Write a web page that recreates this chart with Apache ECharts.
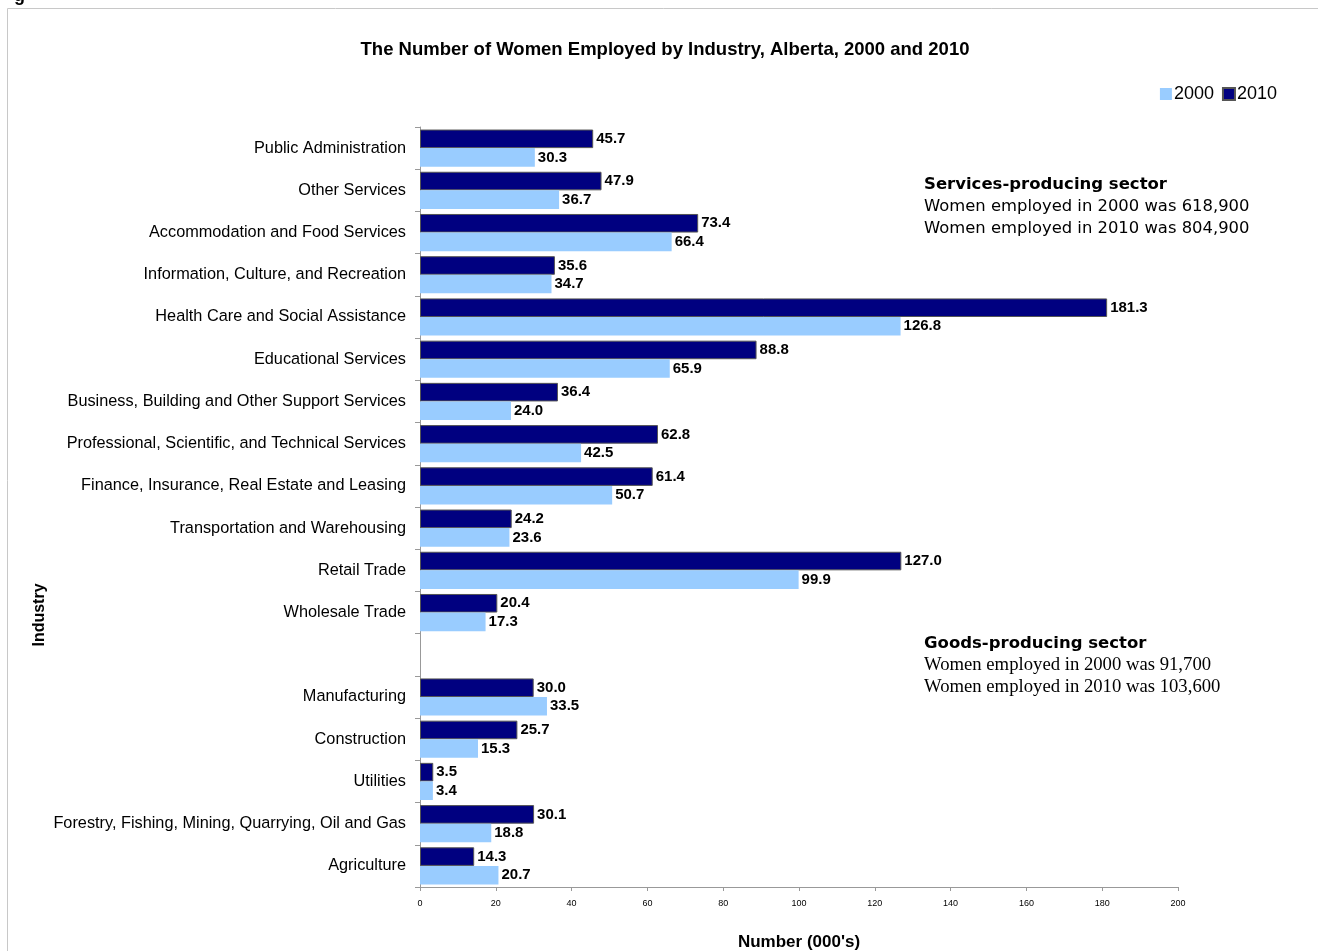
<!DOCTYPE html>
<html><head><meta charset="utf-8">
<script src="https://cdn.jsdelivr.net/npm/echarts@6/dist/echarts.min.js"></script>
<style>html,body{margin:0;padding:0;background:#fff}#c{width:1318px;height:951px}</style>
</head><body><div id="c"></div>
<script>
const categories = ["Public Administration","Other Services","Accommodation and Food Services","Information, Culture, and Recreation","Health Care and Social Assistance","Educational Services","Business, Building and Other Support Services","Professional, Scientific, and Technical Services","Finance, Insurance, Real Estate and Leasing","Transportation and Warehousing","Retail Trade","Wholesale Trade","","Manufacturing","Construction","Utilities","Forestry, Fishing, Mining, Quarrying, Oil and Gas","Agriculture"];
const values2010 = [45.7,47.9,73.4,35.6,181.3,88.8,36.4,62.8,61.4,24.2,127.0,20.4,null,30.0,25.7,3.5,30.1,14.3];
const values2000 = [30.3,36.7,66.4,34.7,126.8,65.9,24.0,42.5,50.7,23.6,99.9,17.3,null,33.5,15.3,3.4,18.8,20.7];
const seriesNames = ["2000","2010"];
const titleText = "The Number of Women Employed by Industry, Alberta, 2000 and 2010";
const xAxisTitle = "Number (000's)";
const yAxisTitle = "Industry";
const servicesNote = ["Services-producing sector","Women employed in 2000 was 618,900","Women employed in 2010 was 804,900"];
const goodsNote = ["Goods-producing sector","Women employed in 2000 was 91,700","Women employed in 2010 was 103,600"];

const chart = echarts.init(document.getElementById('c'));
const SANS = 'Liberation Sans, Arial, sans-serif';
const lbl = {show:true, position:'right', distance:3, color:'#000', fontWeight:'bold', fontSize:15, fontFamily:SANS, formatter:p=>p.value==null?'':p.value.toFixed(1)};
chart.setOption({
  animation:false,
  title:{text:titleText,left:660,textAlign:'center',top:35,textStyle:{fontSize:18.5,fontWeight:'bold',color:'#000',fontFamily:SANS}},
  legend:{data:seriesNames,right:36,top:80,icon:'rect',itemWidth:12,itemHeight:12,itemGap:8,textStyle:{fontSize:18,color:'#000',fontFamily:SANS,padding:[0,0,0,-3]}},
  grid:{left:420,right:140,top:127,bottom:64,outerBoundsMode:'none',containLabel:false},
  xAxis:{type:'value',min:0,max:200,interval:20,splitLine:{show:false},
    axisLine:{show:true,lineStyle:{color:'#999'}},axisTick:{show:true,length:4,lineStyle:{color:'#999'}},
    axisLabel:{color:'#000',fontSize:9,margin:12,fontFamily:SANS},
    name:xAxisTitle,nameLocation:'middle',nameGap:47,nameTextStyle:{fontSize:17,fontWeight:'bold',color:'#000',fontFamily:SANS}},
  yAxis:{type:'category',data:categories,inverse:true,
    axisLine:{show:true,lineStyle:{color:'#999'}},axisTick:{show:true,length:5,lineStyle:{color:'#999'}},
    axisLabel:{color:'#000',fontSize:16.3,margin:14,fontFamily:SANS,padding:[3,0,0,0]}},
  series:[
    {name:'2010',type:'bar',data:values2010,barGap:'0%',barCategoryGap:'12%',itemStyle:{color:'#000080',borderColor:'#555',borderWidth:1},label:lbl},
    {name:'2000',type:'bar',data:values2000,barGap:'0%',barCategoryGap:'12%',itemStyle:{color:'#99CCFF'},label:lbl}
  ],
  graphic:[
    {type:'rect',shape:{x:7.5,y:8.5,width:1320,height:960},style:{fill:'none',stroke:'#c8c8c8',lineWidth:1},z:-1},
    {type:'text',left:14,top:-13,style:{text:'g',font:'bold 18px Liberation Sans, Arial, sans-serif',fill:'#000'}},
    {type:'text',x:40,y:615,rotation:Math.PI/2,style:{text:yAxisTitle,font:'bold 16px Liberation Sans, Arial, sans-serif',fill:'#000',align:'center',verticalAlign:'middle'}},
    {type:'text',x:924,y:176,style:{text:servicesNote[0],font:'bold 16.5px DejaVu Sans, Verdana, sans-serif',fill:'#000'}},
    {type:'text',x:924,y:199,style:{text:servicesNote[1],font:'16.4px DejaVu Sans, Verdana, sans-serif',fill:'#000'}},
    {type:'text',x:924,y:221,style:{text:servicesNote[2],font:'16.4px DejaVu Sans, Verdana, sans-serif',fill:'#000'}},
    {type:'text',x:924,y:635,style:{text:goodsNote[0],font:'bold 16.5px DejaVu Sans, Verdana, sans-serif',fill:'#000'}},
    {type:'text',x:924,y:656,style:{text:goodsNote[1],font:'18.7px Liberation Serif, Times New Roman, serif',fill:'#000'}},
    {type:'text',x:924,y:678,style:{text:goodsNote[2],font:'18.7px Liberation Serif, Times New Roman, serif',fill:'#000'}}
  ]
});
</script></body></html>
